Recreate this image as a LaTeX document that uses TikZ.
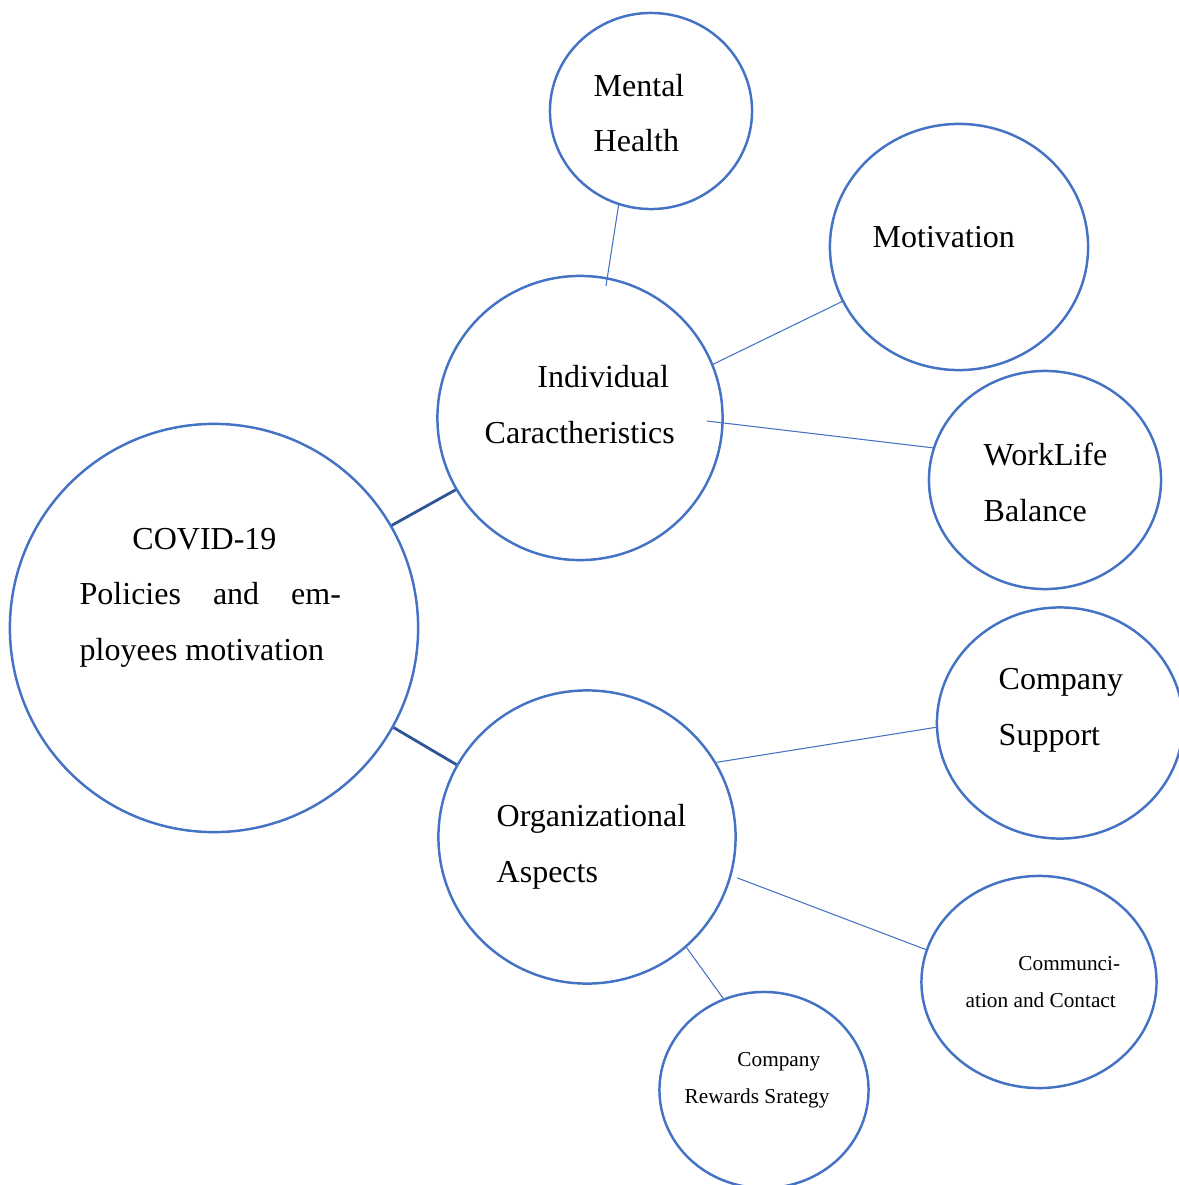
\documentclass[tikz,border=0pt]{standalone}
\usepackage{fontspec}
\setmainfont{Liberation Serif}
\usetikzlibrary{shapes.geometric}
\definecolor{bubbleblue}{HTML}{4472C4}
\definecolor{linkblue}{HTML}{2F5597}
\begin{document}
\begin{tikzpicture}[x=0.01cm,y=-0.01cm,
    bubble/.style={ellipse,draw=bubbleblue,line width=0.7pt,inner sep=0pt},
    bigtext/.style={font=\fontsize{9.1}{15.65}\selectfont,anchor=base west,align=left,inner sep=0pt},
    smalltext/.style={font=\fontsize{6.05}{10.25}\selectfont,anchor=base west,align=left,inner sep=0pt},
    link/.style={draw=bubbleblue,line width=0.3pt},
    mainlink/.style={draw=linkblue,line width=0.8pt}]
  \useasboundingbox (0,0) rectangle (1179,1185);
  % bubbles
  \node[bubble,minimum width=4.08cm,minimum height=4.08cm] (covid) at (214,628) {};
  \node[bubble,minimum width=2.85cm,minimum height=2.84cm] (indiv) at (580,418) {};
  \node[bubble,minimum width=2.97cm,minimum height=2.93cm] (orga) at (587,837) {};
  \node[bubble,minimum width=2.02cm,minimum height=1.96cm] (mental) at (651,111) {};
  \node[bubble,minimum width=2.58cm,minimum height=2.46cm] (motiv) at (959,247) {};
  \node[bubble,minimum width=2.32cm,minimum height=2.18cm] (wlb) at (1045,480) {};
  \node[bubble,minimum width=2.46cm,minimum height=2.31cm] (supp) at (1060,723) {};
  \node[bubble,minimum width=2.35cm,minimum height=2.12cm] (comm) at (1039,982) {};
  \node[bubble,minimum width=2.09cm,minimum height=1.96cm] (rewa) at (764,1090) {};
  % links
  \draw[mainlink] (covid.30) -- (indiv.210);
  \draw[mainlink] (covid.-29) -- (orga.151);
  \draw[link,shorten >=-0.09cm] (mental.251) -- (indiv.79);
  \draw[link] (indiv.22) -- (motiv.205);
  \draw[link,shorten <=-0.17cm] (indiv.-2) -- (wlb.164);
  \draw[link] (orga.30) -- (supp.182);
  \draw[link,shorten <=0.06cm] (orga.-15) -- (comm.164);
  \draw[link] (orga.-48) -- (rewa.114);
  % labels (anchored at the baseline of the last line)
  \node[bigtext] (mental-t) at (593,152) {Mental\\Health};
  \node[bigtext] (motiv-t) at (872,248) {Motivation};
  \node[bigtext] (indiv-t) at (484,443) {\hspace*{15pt}Individual\\Caractheristics};
  \node[bigtext] (wlb-t) at (983,521) {WorkLife\\Balance};
  \node[bigtext] (covid-t) at (79,660) {\hspace*{15pt}COVID-19\\\makebox[74.3pt][s]{Policies and em-}\\ployees motivation};
  \node[bigtext] (supp-t) at (998,745) {Company\\Support};
  \node[bigtext] (orga-t) at (496,882) {Organizational\\Aspects};
  \node[smalltext] (comm-t) at (965,1007) {\hspace*{15pt}Communci-\\ation and Contact};
  \node[smalltext] (rewa-t) at (684,1103) {\hspace*{15pt}Company\\Rewards Srategy};
\end{tikzpicture}
\end{document}
